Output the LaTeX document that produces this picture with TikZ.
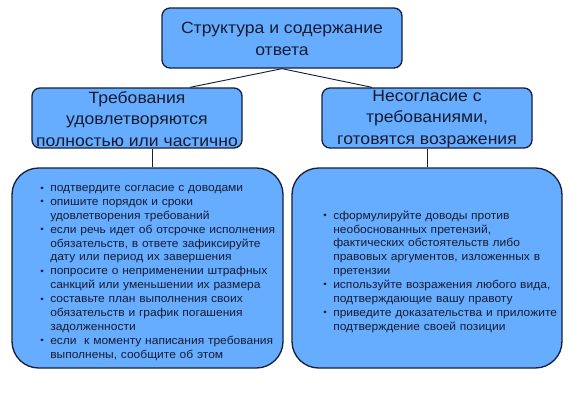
\documentclass[tikz,border=0pt]{standalone}
\usepackage{fontspec}
\setmainfont[FakeStretch=1.08]{Liberation Sans}
\newfontfamily\bodyfont[FakeStretch=1.06]{Liberation Sans}
\definecolor{boxfill}{RGB}{102,172,255}
\definecolor{boxline}{RGB}{22,32,58}
\definecolor{txt}{RGB}{22,28,48}
\newcommand\itm{\par\noindent\llap{\makebox[7.5pt][l]{\fontsize{7}{7}\selectfont\raisebox{0.4pt}{•}}}}
\begin{document}
\begin{tikzpicture}[x=0.75pt,y=-0.75pt,
  box/.style={draw=boxline, line width=1pt, fill=boxfill, rounded corners=6pt, inner sep=0pt},
  bigbox/.style={box, rounded corners=20pt},
  conn/.style={draw=boxline, line width=0.7pt},
  head/.style={text=txt, align=center, inner sep=0pt, font=\fontsize{12.2}{16.3}\selectfont},
  body/.style={text=txt, align=left, inner sep=0pt, anchor=north west, text width=185pt, font=\bodyfont\fontsize{8.5}{10.4}\selectfont}]
\useasboundingbox (0,0) rectangle (570,400);
\fill[white] (0,0) rectangle (570,400);
% boxes
\node[box, minimum width=180pt, minimum height=45pt] (T) at (282,38) {};
\node[box, minimum width=157.5pt, minimum height=45pt] (L) at (137,118) {};
\node[box, minimum width=157.5pt, minimum height=45pt] (R) at (427,118) {};
\node[bigbox, minimum width=203.25pt, minimum height=150pt] (BL) at (147.5,268) {};
\node[bigbox, minimum width=202.5pt, minimum height=150pt] (BR) at (427,268) {};
% texts
\node[head] (Tt) at (282,39) {Структура и содержание\\ответа};
\node[head] (Lt) at (137,119) {Требования\\удовлетворяются\\полностью или частично};
\node[head] (Rt) at (427,119) {Несогласие с\\требованиями,\\готовятся возражения};
\node[body] (BLt) at (50,177.5) {%
\itm подтвердите согласие с доводами
\itm опишите порядок и сроки\\удовлетворения требований
\itm если речь идет об отсрочке исполнения\\обязательств, в ответе зафиксируйте\\дату или период их завершения
\itm попросите о неприменении штрафных\\санкций или уменьшении их размера
\itm составьте план выполнения своих\\обязательств и график погашения\\задолженности
\itm если\ \ к моменту написания требования\\выполнены, сообщите об этом};
\node[body] (BRt) at (333,205) {%
\itm сформулируйте доводы против\\необоснованных претензий,\\фактических обстоятельств либо\\правовых аргументов, изложенных в\\претензии
\itm используйте возражения любого вида,\\подтверждающие вашу правоту
\itm приведите доказательства и приложите\\подтверждение своей позиции};
% connectors
\coordinate (c1) at (190,0);
\coordinate (c2) at (372,0);
\coordinate (c3) at (152,0);
\draw[conn] (T.south) -- (L.north -| c1);
\draw[conn] (T.south) -- (R.north -| c2);
\draw[conn] (L.south -| c3) -- (BL.north -| c3);
\draw[conn] (R.south) -- (BR.north);
\end{tikzpicture}
\end{document}
